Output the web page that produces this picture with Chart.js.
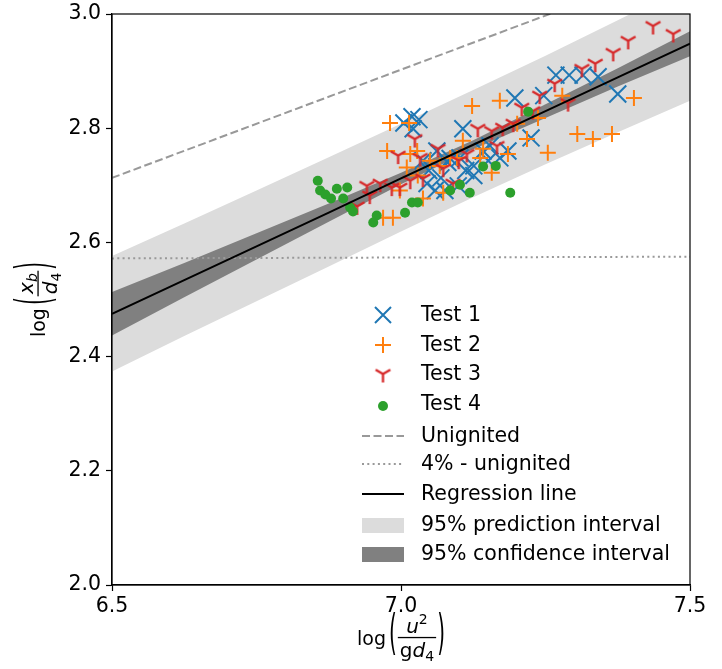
<!DOCTYPE html>
<html>
<head>
<meta charset="utf-8">
<script src="https://cdn.jsdelivr.net/npm/chart.js@4.4.0/dist/chart.umd.min.js"></script>
<style>
  html, body { margin: 0; padding: 0; background: #fff; }
</style>
</head>
<body>
<canvas id="chart" width="722" height="669"></canvas>
<script>
// --- data ---
const test1X = [7.005, 7.019, 7.031, 7.021, 7.107, 7.197, 7.268, 7.291, 7.315, 7.341, 7.375, 7.247, 7.225, 7.185, 7.062, 7.085,
                7.038, 7.045, 7.059, 7.069, 7.081, 7.102, 7.126, 7.151, 7.171, 7.126, 7.154, 7.099, 7.112, 7.142, 7.048, 7.076];
const test1Y = [2.809, 2.820, 2.815, 2.799, 2.799, 2.853, 2.893, 2.893, 2.893, 2.890, 2.860, 2.857, 2.783, 2.760, 2.760, 2.747,
                2.743, 2.703, 2.691, 2.713, 2.740, 2.748, 2.734, 2.743, 2.748, 2.717, 2.769, 2.699, 2.726, 2.760, 2.726, 2.691];

const test2X = [6.981, 7.014, 7.123, 7.171, 6.976, 7.028, 7.010, 7.403, 7.305, 7.332, 7.365, 7.254, 7.279, 7.237, 7.201, 7.218,
                7.185, 7.107, 7.142, 7.137, 7.038, 7.073, 6.969, 6.986, 6.998, 7.157, 7.085, 7.097, 7.016, 7.029, 7.067, 7.050];
const test2Y = [2.809, 2.809, 2.839, 2.848, 2.760, 2.760, 2.731, 2.853, 2.790, 2.781, 2.790, 2.757, 2.857, 2.818, 2.808, 2.781,
                2.755, 2.778, 2.764, 2.748, 2.677, 2.687, 2.643, 2.643, 2.691, 2.722, 2.748, 2.748, 2.755, 2.717, 2.734, 2.743];

const test3X = [7.436, 7.471, 7.393, 7.367, 7.336, 7.313, 7.266, 7.240, 7.209, 7.289, 7.228, 7.133, 7.157, 7.176, 7.194, 7.166,
                7.114, 7.024, 6.995, 7.064, 6.964, 6.941, 6.984, 6.998, 7.033, 7.038, 6.924, 6.946, 7.016, 7.090, 7.073, 7.100];
const test3Y = [2.979, 2.965, 2.953, 2.932, 2.913, 2.904, 2.878, 2.857, 2.836, 2.844, 2.830, 2.799, 2.795, 2.801, 2.808, 2.769,
                2.755, 2.781, 2.752, 2.764, 2.703, 2.699, 2.696, 2.696, 2.748, 2.712, 2.663, 2.682, 2.708, 2.703, 2.729, 2.743];

const test4X = [6.856, 6.860, 6.869, 6.879, 6.889, 6.907, 6.900, 6.912, 6.917, 6.958, 6.952, 7.007, 7.019, 7.029, 7.085, 7.102,
                7.119, 7.189, 7.142, 7.164, 7.220];
const test4Y = [2.708, 2.691, 2.684, 2.677, 2.694, 2.696, 2.677, 2.661, 2.654, 2.647, 2.635, 2.652, 2.670, 2.670, 2.691, 2.701,
                2.687, 2.687, 2.733, 2.734, 2.829];

// regression line and bands
const bandX     = [6.5, 6.625, 6.75, 6.875, 7.0, 7.125, 7.25, 7.375, 7.5];
const regY      = [2.475, 2.534, 2.593, 2.652, 2.712, 2.771, 2.830, 2.889, 2.948];
const confUpper = [2.513, 2.564, 2.616, 2.668, 2.722, 2.779, 2.842, 2.905, 2.970];
const confLower = [2.437, 2.504, 2.570, 2.636, 2.702, 2.763, 2.818, 2.873, 2.926];
const predUpper = [2.576, 2.633, 2.691, 2.749, 2.808, 2.867, 2.927, 2.989, 3.052];
const predLower = [2.374, 2.436, 2.497, 2.558, 2.619, 2.679, 2.737, 2.793, 2.848];

const unignitedX = [6.5, 7.5];
const unignitedY = [2.713, 3.092];
const fourPctX = [6.5, 7.5];
const fourPctY = [2.572, 2.575];

const xTicks = [6.5, 7.0, 7.5];
const yTicks = [2.0, 2.2, 2.4, 2.6, 2.8, 3.0];
const legendLabels = ['Test 1', 'Test 2', 'Test 3', 'Test 4', 'Unignited', '4% - unignited',
                      'Regression line', '95% prediction interval', '95% confidence interval'];

const BLUE = '#1f77b4', ORANGE = '#ff7f0e', RED = '#d62728', GREEN = '#2ca02c';
const FONT = 'DejaVu Sans';
const FS = 20.5;

function pts(xs, ys) {
    return xs.map((x, i) => ({ x: x, y: ys[i] }));
}

// tri_down marker ("Y") as a small canvas
function makeTri(color, size, lw) {
    const c = document.createElement('canvas');
    c.width = c.height = Math.ceil(size * 2 + 6);
    const g = c.getContext('2d');
    const m = c.width / 2;
    g.strokeStyle = color;
    g.lineWidth = lw;
    g.beginPath();
    g.moveTo(m, m); g.lineTo(m, m + size);
    g.moveTo(m, m); g.lineTo(m - size * 0.866, m - size * 0.5);
    g.moveTo(m, m); g.lineTo(m + size * 0.866, m - size * 0.5);
    g.stroke();
    return c;
}
const triRed = makeTri(RED, 8.5, 2.3);

function lineSet(xs, ys, color, width, dash, order) {
    return {
        data: pts(xs, ys), showLine: true, pointRadius: 0, borderColor: color,
        borderWidth: width, borderDash: dash, fill: false, order: order, tension: 0
    };
}
function bandSet(xs, ys, color, fillTo, order) {
    return {
        data: pts(xs, ys), showLine: true, pointRadius: 0, borderWidth: 0,
        borderColor: 'rgba(0,0,0,0)', backgroundColor: color, fill: fillTo, order: order, tension: 0
    };
}

// --- math style axis labels, drawn as text ---
function runWidth(ctx, run) {
    let w = 0;
    run.forEach(p => { ctx.font = p.font; w += ctx.measureText(p.t).width; });
    return w;
}
function drawRun(ctx, run, x, base) {
    run.forEach(p => {
        ctx.font = p.font;
        ctx.fillText(p.t, x, base + (p.dy || 0));
        x += ctx.measureText(p.t).width;
    });
}
function drawParen(ctx, ch, x) {
    ctx.save();
    ctx.translate(x, 0);
    ctx.scale(1, 2.4);
    ctx.textBaseline = 'middle';
    ctx.font = '20px ' + FONT;
    ctx.fillText(ch, 0, -0.3);
    ctx.restore();
}
function drawLogFrac(ctx, num, den) {
    // origin = centre of label, y = 0 is the fraction bar
    ctx.fillStyle = '#000';
    ctx.textAlign = 'left';
    ctx.textBaseline = 'alphabetic';
    ctx.font = '19px ' + FONT;
    const logW = ctx.measureText('log').width;
    ctx.font = '20px ' + FONT;
    const parW = ctx.measureText('(').width;
    const numW = runWidth(ctx, num), denW = runWidth(ctx, den);
    const fracW = Math.max(numW, denW) + 4;
    const total = logW + 3 + parW + 1 + fracW + 1 + parW;
    let x = -total / 2;
    ctx.font = '19px ' + FONT;
    ctx.fillText('log', x, 7);
    x += logW + 3;
    drawParen(ctx, '(', x);
    x += parW + 1;
    ctx.fillRect(x, -0.6, fracW, 1.3);
    drawRun(ctx, num, x + (fracW - numW) / 2, -5);
    drawRun(ctx, den, x + (fracW - denW) / 2, 19);
    x += fracW + 1;
    drawParen(ctx, ')', x);
}

const IT = 'italic 20px ' + FONT, RM = '20px ' + FONT, SM = '14px ' + FONT, SMI = 'italic 14px ' + FONT;
const xNum = [{ t: 'u', font: IT }, { t: '2', font: SM, dy: -9 }];
const xDen = [{ t: 'g', font: RM }, { t: 'd', font: IT }, { t: '4', font: SM, dy: 4 }];
const yNum = [{ t: 'x', font: IT }, { t: 'b', font: SMI, dy: 4 }];
const yDen = [{ t: 'd', font: IT }, { t: '4', font: SM, dy: 4 }];

const decorPlugin = {
    id: 'decor',
    afterDraw(chart) {
        const ctx = chart.ctx, a = chart.chartArea;
        // frame
        ctx.save();
        ctx.strokeStyle = '#000';
        ctx.lineWidth = 1.2;
        ctx.strokeRect(a.left, a.top, a.right - a.left, a.bottom - a.top);
        ctx.restore();

        // axis labels
        ctx.save();
        ctx.translate((a.left + a.right) / 2, 637.5);
        drawLogFrac(ctx, xNum, xDen);
        ctx.restore();
        ctx.save();
        ctx.translate(38, (a.top + a.bottom) / 2);
        ctx.rotate(-Math.PI / 2);
        drawLogFrac(ctx, yNum, yDen);
        ctx.restore();

        // legend
        const hx = 383, tx = 421;
        const rows = [315, 345, 374, 404, 436, 464, 494, 525, 554];
        ctx.save();
        ctx.font = FS + 'px ' + FONT;
        ctx.fillStyle = '#000';
        ctx.textBaseline = 'middle';
        ctx.textAlign = 'left';
        legendLabels.forEach((t, i) => ctx.fillText(t, tx, rows[i] + 1));

        ctx.lineWidth = 2;
        // Test 1 X
        ctx.strokeStyle = BLUE;
        ctx.beginPath();
        ctx.moveTo(hx - 8, rows[0] - 8); ctx.lineTo(hx + 8, rows[0] + 8);
        ctx.moveTo(hx - 8, rows[0] + 8); ctx.lineTo(hx + 8, rows[0] - 8);
        ctx.stroke();
        // Test 2 plus
        ctx.strokeStyle = ORANGE;
        ctx.beginPath();
        ctx.moveTo(hx - 8, rows[1]); ctx.lineTo(hx + 8, rows[1]);
        ctx.moveTo(hx, rows[1] - 8); ctx.lineTo(hx, rows[1] + 8);
        ctx.stroke();
        // Test 3 Y
        ctx.drawImage(triRed, hx - triRed.width / 2, rows[2] - triRed.height / 2);
        // Test 4 dot
        ctx.fillStyle = GREEN;
        ctx.beginPath();
        ctx.arc(hx, rows[3] + 2, 5, 0, Math.PI * 2);
        ctx.fill();
        // lines
        const lx0 = 362, lx1 = 404;
        ctx.strokeStyle = '#999999';
        ctx.setLineDash([8, 3.5]);
        ctx.beginPath(); ctx.moveTo(lx0, rows[4]); ctx.lineTo(lx1, rows[4]); ctx.stroke();
        ctx.setLineDash([2, 3.3]);
        ctx.beginPath(); ctx.moveTo(lx0, rows[5]); ctx.lineTo(lx1, rows[5]); ctx.stroke();
        ctx.setLineDash([]);
        ctx.strokeStyle = '#000';
        ctx.beginPath(); ctx.moveTo(lx0, rows[6]); ctx.lineTo(lx1, rows[6]); ctx.stroke();
        ctx.fillStyle = '#dcdcdc';
        ctx.fillRect(lx0, rows[7] - 7, lx1 - lx0, 15);
        ctx.fillStyle = '#808080';
        ctx.fillRect(lx0, rows[8] - 7, lx1 - lx0, 15);
        ctx.restore();
    }
};

const ctx = document.getElementById('chart').getContext('2d');
const chart = new Chart(ctx, {
    type: 'scatter',
    data: {
        datasets: [
            lineSet(bandX, regY, '#000', 2, [], 0),                          // 0
            { data: pts(test1X, test1Y), pointStyle: 'crossRot', pointRadius: 12, borderColor: BLUE,
              borderWidth: 2, backgroundColor: BLUE, order: 4 },              // 1
            { data: pts(test2X, test2Y), pointStyle: 'cross', pointRadius: 8, borderColor: ORANGE,
              borderWidth: 2, backgroundColor: ORANGE, order: 3 },            // 2
            { data: pts(test3X, test3Y), pointStyle: triRed, order: 2 },      // 3
            { data: pts(test4X, test4Y), pointStyle: 'circle', pointRadius: 5, borderWidth: 0,
              backgroundColor: GREEN, order: 1 },                             // 4
            lineSet(unignitedX, unignitedY, '#999999', 2, [8, 3.5], 5),       // 5
            lineSet(fourPctX, fourPctY, '#999999', 2, [2, 3.3], 6),           // 6
            bandSet(bandX, confUpper, '#808080', false, 7),                   // 7
            bandSet(bandX, confLower, '#808080', 7, 8),                       // 8
            bandSet(bandX, predUpper, '#dcdcdc', false, 9),                   // 9
            bandSet(bandX, predLower, '#dcdcdc', 9, 10)                       // 10
        ]
    },
    options: {
        responsive: false,
        animation: false,
        events: [],
        layout: { padding: { top: 13, right: 32, left: 0, bottom: 0 } },
        plugins: { legend: { display: false }, tooltip: { enabled: false } },
        scales: {
            x: {
                type: 'linear', min: 6.5, max: 7.5,
                afterBuildTicks: s => { s.ticks = xTicks.map(v => ({ value: v })); },
                afterFit: s => { s.height = 84; s.paddingLeft = 0; s.paddingRight = 0; },
                ticks: { color: '#000', font: { family: FONT, size: FS }, padding: 3,
                         maxRotation: 0, callback: v => v.toFixed(1) },
                grid: { drawOnChartArea: false, drawTicks: true, tickLength: 6, tickColor: '#000', tickWidth: 1.2 },
                border: { display: true, color: '#000', width: 1.2 }
            },
            y: {
                type: 'linear', min: 2.0, max: 3.0,
                afterBuildTicks: s => { s.ticks = yTicks.map(v => ({ value: v })); },
                afterFit: s => { s.width = 112; s.paddingTop = 0; s.paddingBottom = 0; },
                ticks: { color: '#000', font: { family: FONT, size: FS }, padding: 5,
                         callback: v => v.toFixed(1) },
                grid: { drawOnChartArea: false, drawTicks: true, tickLength: 6, tickColor: '#000', tickWidth: 1.2 },
                border: { display: true, color: '#000', width: 1.2 }
            }
        }
    },
    plugins: [decorPlugin]
});
</script>
</body>
</html>
